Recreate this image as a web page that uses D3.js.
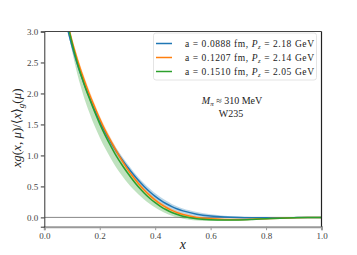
<!DOCTYPE html>
<html><head><meta charset="utf-8">
<script src="https://cdn.jsdelivr.net/npm/d3@7"></script>
<style>body{margin:0;background:#fff}svg{display:block}text{font-family:"Liberation Serif","DejaVu Serif",serif}</style>
</head><body><svg id="c" width="357" height="255"></svg>
<script>
const xGrid = [0.06,0.07,0.08,0.09,0.10,0.11,0.12,0.13,0.14,0.15,0.16,0.18,0.20,0.22,0.24,0.26,0.28,0.30,0.32,0.34,0.36,0.38,0.40,0.42,0.44,0.46,0.48,0.50,0.55,0.60,0.65,0.70,0.75,0.80,0.85,0.90,0.95,1.00];
const blueVals   = [3.57,3.33,3.12,2.935,2.765,2.61,2.465,2.33,2.205,2.085,1.975,1.75,1.55,1.37,1.21,1.065,0.935,0.815,0.70,0.595,0.50,0.415,0.34,0.275,0.22,0.173,0.135,0.105,0.052,0.022,0.006,-0.002,-0.006,-0.007,-0.006,-0.004,-0.002,0.0];
const orangeVals = [3.705,3.455,3.225,3.025,2.845,2.685,2.535,2.395,2.265,2.14,2.02,1.80,1.59,1.40,1.23,1.07,0.92,0.78,0.655,0.543,0.443,0.356,0.28,0.215,0.16,0.114,0.076,0.046,0.0,-0.022,-0.032,-0.033,-0.028,-0.02,-0.012,-0.006,-0.002,0.0];
const greenVals  = [3.69,3.44,3.21,3.005,2.815,2.64,2.48,2.335,2.20,2.07,1.95,1.72,1.51,1.32,1.15,0.99,0.85,0.72,0.60,0.49,0.395,0.31,0.237,0.175,0.123,0.08,0.046,0.02,-0.02,-0.037,-0.043,-0.04,-0.032,-0.022,-0.013,-0.006,-0.002,0.0];
const blueErr    = [0.05,0.05,0.05,0.05,0.05,0.05,0.05,0.05,0.05,0.05,0.05,0.05,0.05,0.05,0.05,0.05,0.05,0.05,0.05,0.05,0.05,0.05,0.05,0.05,0.048,0.045,0.042,0.04,0.034,0.027,0.02,0.015,0.012,0.01,0.008,0.006,0.005,0.005];
const orangeErr  = [0.06,0.06,0.06,0.06,0.06,0.06,0.06,0.06,0.06,0.06,0.06,0.055,0.05,0.05,0.05,0.047,0.045,0.042,0.04,0.038,0.035,0.033,0.03,0.028,0.026,0.024,0.022,0.02,0.018,0.015,0.013,0.011,0.009,0.008,0.006,0.005,0.004,0.004];
const greenErrLo = [0.05,0.06,0.08,0.10,0.13,0.155,0.18,0.20,0.215,0.225,0.23,0.23,0.22,0.21,0.20,0.19,0.175,0.16,0.14,0.12,0.105,0.09,0.078,0.068,0.06,0.052,0.045,0.04,0.03,0.022,0.016,0.012,0.01,0.008,0.006,0.005,0.004,0.004];
const greenErrHi = [0.04,0.04,0.04,0.04,0.04,0.04,0.04,0.04,0.04,0.04,0.04,0.04,0.04,0.04,0.04,0.037,0.035,0.032,0.03,0.028,0.026,0.024,0.022,0.02,0.019,0.018,0.016,0.015,0.012,0.01,0.009,0.008,0.006,0.005,0.004,0.004,0.003,0.003];
const seriesNames = ["0.0888","0.1207","0.1510"];
const seriesPz = ["2.18","2.14","2.05"];
const seriesColors = ["#1f77b4","#ff7f0e","#2ca02c"];
const xTicks = [0,0.2,0.4,0.6,0.8,1.0];
const yTicks = [0,0.5,1.0,1.5,2.0,2.5,3.0];

const svg = d3.select("#c");
const L=44.3,R=321.5,T=31.5,B=226.7;
const x = d3.scaleLinear().domain([0,1]).range([L,R]);
const y = d3.scaleLinear().domain([-0.15,3.0]).range([B,T]);

svg.append("clipPath").attr("id","clip").append("rect").attr("x",L).attr("y",T).attr("width",R-L).attr("height",B-T);
const g = svg.append("g").attr("clip-path","url(#clip)");

g.append("line").attr("x1",L).attr("x2",R).attr("y1",y(0)).attr("y2",y(0)).attr("stroke","#888").attr("stroke-width",1);

const series = [
  {vals:blueVals, lo:blueErr, hi:blueErr},
  {vals:orangeVals, lo:orangeErr, hi:orangeErr},
  {vals:greenVals, lo:greenErrLo, hi:greenErrHi}
];
const curve = d3.curveCatmullRom.alpha(0.5);
series.forEach((s,i)=>{
  const area = d3.area().x((d,j)=>x(xGrid[j])).y0((d,j)=>y(s.vals[j]-s.lo[j])).y1((d,j)=>y(s.vals[j]+s.hi[j])).curve(curve);
  g.append("path").datum(s.vals).attr("d",area).attr("fill",seriesColors[i]).attr("fill-opacity",0.3);
});
series.forEach((s,i)=>{
  const line = d3.line().x((d,j)=>x(xGrid[j])).y(d=>y(d)).curve(curve);
  g.append("path").datum(s.vals).attr("d",line).attr("fill","none").attr("stroke",seriesColors[i]).attr("stroke-width",1.5);
});

const xAxis = d3.axisBottom(x).tickValues(xTicks).tickFormat(d3.format(".1f")).tickSize(3.5).tickPadding(2.5);
const yAxis = d3.axisLeft(y).tickValues(yTicks).tickFormat(d3.format(".1f")).tickSize(3.5).tickPadding(2.5);
const gx = svg.append("g").attr("transform",`translate(0,${B})`).call(xAxis);
const gy = svg.append("g").attr("transform",`translate(${L},0)`).call(yAxis);
gx.select(".domain").attr("stroke","#999").attr("stroke-width",2);
gx.selectAll(".tick line").attr("stroke","#999");
gy.select(".domain").attr("stroke","#333").attr("stroke-width",1);
gy.selectAll(".tick line").attr("stroke","#333");
[gx,gy].forEach(a=>a.selectAll(".tick text").attr("font-family","Liberation Serif, serif").attr("font-size",9).attr("fill","#444"));
svg.append("line").attr("x1",L).attr("x2",R).attr("y1",T).attr("y2",T).attr("stroke","#444").attr("stroke-width",1);
svg.append("line").attr("x1",R).attr("x2",R).attr("y1",T).attr("y2",B).attr("stroke","#222").attr("stroke-width",1.2);

const lg = svg.append("g");
lg.append("rect").attr("x",153.5).attr("y",33).attr("width",163).attr("height",47).attr("rx",2.5).attr("fill","#fff").attr("fill-opacity",0.8).attr("stroke","#ddd").attr("stroke-width",0.8);
seriesNames.forEach((n,i)=>{
  const yy = 43.5 + i*14;
  lg.append("line").attr("x1",156).attr("x2",172).attr("y1",yy).attr("y2",yy).attr("stroke",seriesColors[i]).attr("stroke-width",1.5);
  const t = lg.append("text").attr("x",185).attr("y",yy+3).attr("font-size",9.5).attr("fill","#222")
    .attr("textLength",129).attr("lengthAdjust","spacing");
  t.append("tspan").text(`a = ${n} fm, `);
  t.append("tspan").attr("font-style","italic").text("P");
  t.append("tspan").attr("font-style","italic").attr("font-size",6.5).attr("dy",2).text("z");
  t.append("tspan").attr("dy",-2).text(` = ${seriesPz[i]} GeV`);
});

const a1 = svg.append("text").attr("x",232).attr("y",103.5).attr("text-anchor","middle").attr("font-size",10).attr("fill","#222");
a1.append("tspan").attr("font-style","italic").text("M");
a1.append("tspan").attr("font-style","italic").attr("font-size",7).attr("dy",2).text("π");
a1.append("tspan").attr("dy",-2).text(" ≈ 310 MeV");
svg.append("text").attr("x",231).attr("y",117).attr("text-anchor","middle").attr("font-size",10).attr("fill","#222").text("W235");

svg.append("text").attr("x",x(0.5)).attr("y",249).attr("text-anchor","middle").attr("font-size",14).attr("font-style","italic").attr("fill","#222").text("x");
const yl = svg.append("text").attr("transform",`translate(21,128) rotate(-90)`).attr("text-anchor","middle").attr("font-size",13).attr("fill","#222");
yl.append("tspan").attr("font-style","italic").text("xg");
yl.append("tspan").text("(");
yl.append("tspan").attr("font-style","italic").text("x");
yl.append("tspan").text(", ");
yl.append("tspan").attr("font-style","italic").text("μ");
yl.append("tspan").text(")/⟨");
yl.append("tspan").attr("font-style","italic").text("x");
yl.append("tspan").text("⟩");
yl.append("tspan").attr("font-style","italic").attr("font-size",9).attr("dy",3).text("g");
yl.append("tspan").attr("dy",-3).text("(");
yl.append("tspan").attr("font-style","italic").text("μ");
yl.append("tspan").text(")");
</script></body></html>
